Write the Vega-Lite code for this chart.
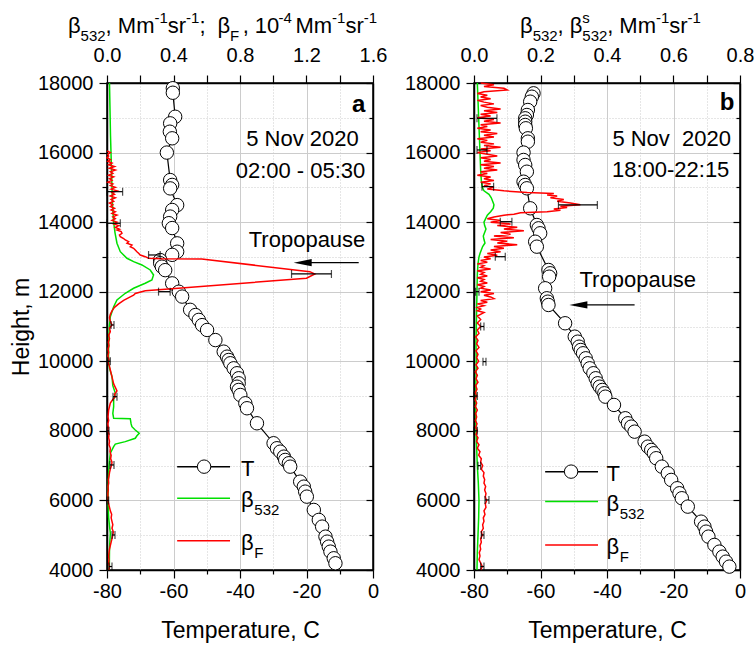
{
"$schema": "https://vega.github.io/schema/vega-lite/v6.json",
"background": "white",
"padding": {"left": 9, "top": 10, "right": 0, "bottom": 0},
"bounds": "flush",
"spacing": 101,
"config": {
 "font": "Liberation Sans",
 "view": {"stroke": "black", "strokeWidth": 1.5},
 "axis": {"labelFont": "Liberation Sans", "labelFontSize": 20, "labelColor": "black", "titleFont": "Liberation Sans", "titleFontSize": 23, "titleFontWeight": "normal", "titleColor": "black", "domainColor": "black", "domainWidth": 1.5, "tickColor": "black", "tickWidth": 1.2, "labelFlush": false, "labelOverlap": false, "labelBound": false, "gridColor": "#cccccc", "gridWidth": 1}
},
"datasets": {
 "Ta": [{"T":-60.2,"h":17850},{"T":-60.2,"h":17720},{"T":-59.5,"h":17030},{"T":-61.0,"h":16840},{"T":-61.1,"h":16600},{"T":-60.4,"h":16410},{"T":-62.0,"h":16000},{"T":-61.0,"h":15210},{"T":-60.4,"h":15070},{"T":-61.0,"h":14970},{"T":-58.9,"h":14490},{"T":-60.4,"h":14350},{"T":-61.0,"h":14160},{"T":-61.4,"h":13970},{"T":-60.4,"h":13830},{"T":-58.9,"h":13390},{"T":-58.9,"h":13150},{"T":-60.4,"h":13060},{"T":-64.0,"h":12910},{"T":-64.0,"h":12820},{"T":-63.5,"h":12720},{"T":-62.5,"h":12620},{"T":-60.4,"h":12240},{"T":-58.4,"h":12000},{"T":-57.4,"h":11860},{"T":-55.0,"h":11480},{"T":-53.4,"h":11330},{"T":-52.4,"h":11190},{"T":-51.4,"h":11040},{"T":-49.9,"h":10900},{"T":-47.4,"h":10610},{"T":-44.9,"h":10277},{"T":-43.9,"h":10133},{"T":-43.4,"h":10038},{"T":-42.9,"h":9943},{"T":-41.9,"h":9799},{"T":-40.9,"h":9656},{"T":-40.4,"h":9512},{"T":-40.4,"h":9368},{"T":-40.9,"h":9270},{"T":-40.4,"h":9176},{"T":-39.9,"h":9032},{"T":-38.4,"h":8793},{"T":-37.9,"h":8650},{"T":-34.9,"h":8218},{"T":-29.9,"h":7644},{"T":-28.9,"h":7500},{"T":-27.9,"h":7402},{"T":-26.8,"h":7259},{"T":-26.4,"h":7164},{"T":-25.3,"h":7069},{"T":-24.9,"h":6971},{"T":-21.9,"h":6540},{"T":-20.8,"h":6396},{"T":-20.4,"h":6253},{"T":-19.9,"h":6109},{"T":-17.8,"h":5727},{"T":-16.3,"h":5440},{"T":-15.3,"h":5247},{"T":-14.3,"h":4959},{"T":-13.8,"h":4815},{"T":-13.3,"h":4672},{"T":-12.8,"h":4528},{"T":-11.8,"h":4337},{"T":-11.3,"h":4194}],
 "Tb": [{"T":-62.1,"h":17704},{"T":-62.6,"h":17606},{"T":-63.1,"h":17463},{"T":-63.8,"h":17224},{"T":-64.1,"h":17080},{"T":-64.6,"h":16985},{"T":-64.6,"h":16888},{"T":-64.6,"h":16793},{"T":-64.4,"h":16698},{"T":-63.8,"h":16410},{"T":-63.8,"h":16313},{"T":-65.1,"h":16000},{"T":-65.1,"h":15787},{"T":-64.6,"h":15643},{"T":-64.1,"h":15450},{"T":-65.1,"h":15163},{"T":-64.6,"h":15068},{"T":-64.1,"h":14973},{"T":-63.1,"h":14398},{"T":-61.1,"h":13918},{"T":-60.6,"h":13822},{"T":-60.1,"h":13680},{"T":-61.6,"h":13438},{"T":-61.1,"h":13295},{"T":-57.6,"h":12625},{"T":-57.1,"h":12530},{"T":-57.4,"h":12432},{"T":-58.6,"h":12099},{"T":-58.1,"h":11811},{"T":-57.8,"h":11714},{"T":-57.6,"h":11619},{"T":-52.6,"h":11093},{"T":-49.7,"h":10708},{"T":-48.8,"h":10564},{"T":-48.4,"h":10420},{"T":-47.9,"h":10325},{"T":-47.2,"h":10230},{"T":-46.4,"h":10086},{"T":-45.8,"h":9943},{"T":-45.2,"h":9799},{"T":-44.1,"h":9656},{"T":-43.4,"h":9512},{"T":-42.8,"h":9368},{"T":-42.2,"h":9270},{"T":-41.4,"h":9176},{"T":-40.8,"h":9081},{"T":-40.5,"h":8983},{"T":-37.9,"h":8745},{"T":-34.5,"h":8362},{"T":-33.7,"h":8218},{"T":-32.7,"h":8121},{"T":-31.7,"h":7977},{"T":-28.7,"h":7690},{"T":-27.7,"h":7546},{"T":-26.7,"h":7451},{"T":-25.9,"h":7356},{"T":-25.2,"h":7213},{"T":-23.5,"h":6971},{"T":-21.7,"h":6781},{"T":-20.7,"h":6589},{"T":-18.9,"h":6350},{"T":-18.2,"h":6206},{"T":-17.5,"h":6063},{"T":-15.7,"h":5822},{"T":-11.7,"h":5390},{"T":-10.7,"h":5247},{"T":-10.2,"h":5103},{"T":-9.5,"h":4959},{"T":-7.7,"h":4720},{"T":-6.2,"h":4528},{"T":-5.2,"h":4384},{"T":-4.2,"h":4240},{"T":-3.2,"h":4097}],
 "Ga": [{"b":0.015,"h":18000},{"b":0.017,"h":17500},{"b":0.019,"h":17000},{"b":0.021,"h":16500},{"b":0.024,"h":16000},{"b":0.027,"h":15500},{"b":0.03,"h":15000},{"b":0.033,"h":14500},{"b":0.04,"h":14000},{"b":0.048,"h":13700},{"b":0.06,"h":13393},{"b":0.08,"h":13151},{"b":0.12,"h":12961},{"b":0.16,"h":12864},{"b":0.21,"h":12769},{"b":0.26,"h":12625},{"b":0.28,"h":12481},{"b":0.27,"h":12338},{"b":0.23,"h":12243},{"b":0.16,"h":12099},{"b":0.11,"h":11955},{"b":0.06,"h":11763},{"b":0.04,"h":11570},{"b":0.02,"h":11283},{"b":0.014,"h":10995},{"b":0.01,"h":10500},{"b":0.009,"h":10038},{"b":0.015,"h":9800},{"b":0.03,"h":9558},{"b":0.035,"h":9300},{"b":0.05,"h":9081},{"b":0.04,"h":8900},{"b":0.04,"h":8696},{"b":0.035,"h":8500},{"b":0.04,"h":8362},{"b":0.14,"h":8350},{"b":0.145,"h":8200},{"b":0.15,"h":8120},{"b":0.17,"h":8026},{"b":0.194,"h":7931},{"b":0.18,"h":7860},{"b":0.17,"h":7787},{"b":0.11,"h":7690},{"b":0.05,"h":7620},{"b":0.04,"h":7546},{"b":0.02,"h":7356},{"b":0.012,"h":7000},{"b":0.01,"h":6781},{"b":0.008,"h":6500},{"b":0.006,"h":6014},{"b":0.01,"h":5500},{"b":0.02,"h":5057},{"b":0.015,"h":4600},{"b":0.014,"h":4100},{"b":0.013,"h":4000}],
 "Gb": [{"b":0.01,"h":18000},{"b":0.012,"h":17500},{"b":0.014,"h":17000},{"b":0.016,"h":16500},{"b":0.018,"h":16000},{"b":0.02,"h":15500},{"b":0.022,"h":15200},{"b":0.025,"h":15000},{"b":0.03,"h":14900},{"b":0.045,"h":14800},{"b":0.052,"h":14700},{"b":0.056,"h":14600},{"b":0.06,"h":14500},{"b":0.058,"h":14400},{"b":0.05,"h":14300},{"b":0.04,"h":14200},{"b":0.035,"h":14100},{"b":0.03,"h":14000},{"b":0.032,"h":13900},{"b":0.036,"h":13800},{"b":0.032,"h":13700},{"b":0.028,"h":13600},{"b":0.03,"h":13500},{"b":0.033,"h":13400},{"b":0.026,"h":13300},{"b":0.022,"h":13200},{"b":0.018,"h":13100},{"b":0.015,"h":13000},{"b":0.012,"h":12800},{"b":0.01,"h":12500},{"b":0.009,"h":12000},{"b":0.008,"h":11500},{"b":0.007,"h":11000},{"b":0.006,"h":10500},{"b":0.007,"h":10000},{"b":0.006,"h":9500},{"b":0.005,"h":9000},{"b":0.005,"h":8500},{"b":0.006,"h":8000},{"b":0.008,"h":7500},{"b":0.01,"h":7000},{"b":0.013,"h":6500},{"b":0.015,"h":6000},{"b":0.014,"h":5500},{"b":0.012,"h":5000},{"b":0.01,"h":4500},{"b":0.009,"h":4000}],
 "Ra": [{"b":0.0,"h":16050},{"b":0.02,"h":16000},{"b":0.005,"h":15950},{"b":0.01,"h":15900},{"b":0.0,"h":15850},{"b":0.02,"h":15800},{"b":0.005,"h":15750},{"b":0.03,"h":15700},{"b":0.01,"h":15650},{"b":0.045,"h":15600},{"b":0.015,"h":15550},{"b":0.05,"h":15500},{"b":0.02,"h":15450},{"b":0.035,"h":15400},{"b":0.01,"h":15350},{"b":0.04,"h":15300},{"b":0.015,"h":15250},{"b":0.03,"h":15200},{"b":0.005,"h":15150},{"b":0.035,"h":15100},{"b":0.02,"h":15050},{"b":0.05,"h":15000},{"b":0.025,"h":14950},{"b":0.06,"h":14900},{"b":0.03,"h":14850},{"b":0.045,"h":14800},{"b":0.02,"h":14750},{"b":0.05,"h":14700},{"b":0.025,"h":14650},{"b":0.04,"h":14600},{"b":0.015,"h":14550},{"b":0.035,"h":14500},{"b":0.02,"h":14450},{"b":0.045,"h":14400},{"b":0.025,"h":14350},{"b":0.05,"h":14300},{"b":0.03,"h":14250},{"b":0.06,"h":14200},{"b":0.035,"h":14150},{"b":0.05,"h":14100},{"b":0.03,"h":14050},{"b":0.06,"h":14000},{"b":0.04,"h":13950},{"b":0.07,"h":13900},{"b":0.05,"h":13850},{"b":0.075,"h":13800},{"b":0.06,"h":13775},{"b":0.085,"h":13730},{"b":0.09,"h":13680},{"b":0.075,"h":13630},{"b":0.08,"h":13582},{"b":0.1,"h":13530},{"b":0.11,"h":13487},{"b":0.13,"h":13438},{"b":0.12,"h":13393},{"b":0.15,"h":13344},{"b":0.14,"h":13295},{"b":0.16,"h":13249},{"b":0.17,"h":13200},{"b":0.18,"h":13151},{"b":0.19,"h":13105},{"b":0.2,"h":13056},{"b":0.23,"h":13007},{"b":0.25,"h":12961},{"b":0.33,"h":12945},{"b":0.57,"h":12940},{"b":1.22,"h":12576},{"b":1.25,"h":12510},{"b":1.2,"h":12386},{"b":0.37,"h":12079},{"b":0.23,"h":12030},{"b":0.17,"h":11950},{"b":0.16,"h":11900},{"b":0.14,"h":11850},{"b":0.1,"h":11750},{"b":0.07,"h":11650},{"b":0.045,"h":11550},{"b":0.03,"h":11450},{"b":0.02,"h":11350},{"b":0.015,"h":11250},{"b":0.02,"h":11150},{"b":0.03,"h":11044},{"b":0.015,"h":10950},{"b":0.02,"h":10850},{"b":0.01,"h":10750},{"b":0.015,"h":10650},{"b":0.008,"h":10550},{"b":0.012,"h":10450},{"b":0.006,"h":10350},{"b":0.01,"h":10250},{"b":0.005,"h":10150},{"b":0.012,"h":10050},{"b":0.008,"h":9950},{"b":0.015,"h":9850},{"b":0.02,"h":9750},{"b":0.025,"h":9650},{"b":0.03,"h":9550},{"b":0.035,"h":9450},{"b":0.04,"h":9350},{"b":0.05,"h":9250},{"b":0.06,"h":9150},{"b":0.045,"h":9050},{"b":0.05,"h":8983},{"b":0.035,"h":8900},{"b":0.02,"h":8800},{"b":0.015,"h":8700},{"b":0.01,"h":8600},{"b":0.008,"h":8500},{"b":0.006,"h":8400},{"b":0.01,"h":8300},{"b":0.005,"h":8200},{"b":0.008,"h":8100},{"b":0.006,"h":8000},{"b":0.012,"h":7900},{"b":0.01,"h":7800},{"b":0.015,"h":7700},{"b":0.012,"h":7600},{"b":0.02,"h":7500},{"b":0.018,"h":7400},{"b":0.025,"h":7300},{"b":0.022,"h":7200},{"b":0.03,"h":7100},{"b":0.028,"h":7020},{"b":0.02,"h":6900},{"b":0.015,"h":6800},{"b":0.012,"h":6700},{"b":0.008,"h":6600},{"b":0.01,"h":6500},{"b":0.006,"h":6400},{"b":0.008,"h":6300},{"b":0.005,"h":6200},{"b":0.006,"h":6100},{"b":0.005,"h":6000},{"b":0.01,"h":5900},{"b":0.015,"h":5800},{"b":0.02,"h":5700},{"b":0.028,"h":5600},{"b":0.025,"h":5500},{"b":0.03,"h":5400},{"b":0.035,"h":5300},{"b":0.03,"h":5200},{"b":0.038,"h":5100},{"b":0.035,"h":5007},{"b":0.03,"h":4900},{"b":0.025,"h":4800},{"b":0.02,"h":4700},{"b":0.015,"h":4600},{"b":0.012,"h":4500},{"b":0.01,"h":4400},{"b":0.012,"h":4300},{"b":0.01,"h":4200},{"b":0.015,"h":4100},{"b":0.012,"h":4000}],
 "Rb": [{"b":0.02,"h":18000},{"b":0.06,"h":17950},{"b":0.03,"h":17900},{"b":0.09,"h":17850},{"b":0.1,"h":17800},{"b":0.03,"h":17750},{"b":0.01,"h":17700},{"b":0.04,"h":17650},{"b":0.02,"h":17600},{"b":0.05,"h":17550},{"b":0.01,"h":17500},{"b":0.03,"h":17450},{"b":0.06,"h":17400},{"b":0.02,"h":17350},{"b":0.04,"h":17300},{"b":0.08,"h":17250},{"b":0.03,"h":17200},{"b":0.07,"h":17150},{"b":0.02,"h":17100},{"b":0.05,"h":17050},{"b":0.01,"h":17000},{"b":0.06,"h":16950},{"b":0.03,"h":16900},{"b":0.08,"h":16850},{"b":0.02,"h":16800},{"b":0.04,"h":16750},{"b":0.01,"h":16700},{"b":0.05,"h":16650},{"b":0.02,"h":16600},{"b":0.07,"h":16550},{"b":0.03,"h":16500},{"b":0.06,"h":16450},{"b":0.01,"h":16400},{"b":0.04,"h":16350},{"b":0.02,"h":16300},{"b":0.06,"h":16250},{"b":0.03,"h":16200},{"b":0.08,"h":16150},{"b":0.02,"h":16100},{"b":0.05,"h":16050},{"b":0.01,"h":16000},{"b":0.04,"h":15950},{"b":0.07,"h":15900},{"b":0.02,"h":15850},{"b":0.05,"h":15800},{"b":0.03,"h":15750},{"b":0.08,"h":15700},{"b":0.02,"h":15650},{"b":0.06,"h":15600},{"b":0.03,"h":15550},{"b":0.07,"h":15500},{"b":0.02,"h":15450},{"b":0.04,"h":15400},{"b":0.01,"h":15350},{"b":0.05,"h":15300},{"b":0.03,"h":15250},{"b":0.06,"h":15200},{"b":0.02,"h":15150},{"b":0.05,"h":15100},{"b":0.03,"h":15050},{"b":0.06,"h":15000},{"b":0.04,"h":14950},{"b":0.09,"h":14900},{"b":0.16,"h":14850},{"b":0.24,"h":14820},{"b":0.22,"h":14780},{"b":0.25,"h":14750},{"b":0.23,"h":14700},{"b":0.27,"h":14650},{"b":0.25,"h":14600},{"b":0.29,"h":14550},{"b":0.32,"h":14500},{"b":0.26,"h":14460},{"b":0.28,"h":14420},{"b":0.24,"h":14380},{"b":0.26,"h":14340},{"b":0.22,"h":14300},{"b":0.14,"h":14270},{"b":0.12,"h":14230},{"b":0.09,"h":14200},{"b":0.06,"h":14150},{"b":0.04,"h":14100},{"b":0.08,"h":14050},{"b":0.05,"h":14000},{"b":0.11,"h":13950},{"b":0.07,"h":13900},{"b":0.13,"h":13850},{"b":0.09,"h":13800},{"b":0.15,"h":13750},{"b":0.08,"h":13700},{"b":0.11,"h":13650},{"b":0.06,"h":13600},{"b":0.12,"h":13550},{"b":0.05,"h":13500},{"b":0.1,"h":13450},{"b":0.07,"h":13400},{"b":0.13,"h":13350},{"b":0.06,"h":13300},{"b":0.09,"h":13250},{"b":0.05,"h":13200},{"b":0.08,"h":13150},{"b":0.04,"h":13100},{"b":0.07,"h":13050},{"b":0.03,"h":13000},{"b":0.05,"h":12950},{"b":0.02,"h":12900},{"b":0.04,"h":12850},{"b":0.01,"h":12800},{"b":0.03,"h":12750},{"b":0.02,"h":12700},{"b":0.05,"h":12650},{"b":0.01,"h":12600},{"b":0.03,"h":12550},{"b":0.02,"h":12500},{"b":0.04,"h":12450},{"b":0.01,"h":12400},{"b":0.03,"h":12350},{"b":0.02,"h":12300},{"b":0.04,"h":12250},{"b":0.01,"h":12200},{"b":0.03,"h":12150},{"b":0.02,"h":12100},{"b":0.05,"h":12050},{"b":0.02,"h":12000},{"b":0.06,"h":11950},{"b":0.03,"h":11900},{"b":0.05,"h":11850},{"b":0.06,"h":11800},{"b":0.02,"h":11750},{"b":0.04,"h":11700},{"b":0.01,"h":11650},{"b":0.03,"h":11600},{"b":0.01,"h":11550},{"b":0.02,"h":11500},{"b":0.01,"h":11450},{"b":0.03,"h":11400},{"b":0.01,"h":11300},{"b":0.02,"h":11200},{"b":0.01,"h":11100},{"b":0.02,"h":11000},{"b":0.01,"h":10900},{"b":0.015,"h":10800},{"b":0.005,"h":10700},{"b":0.012,"h":10600},{"b":0.008,"h":10500},{"b":0.015,"h":10400},{"b":0.006,"h":10300},{"b":0.012,"h":10200},{"b":0.008,"h":10100},{"b":0.014,"h":10000},{"b":0.006,"h":9900},{"b":0.012,"h":9800},{"b":0.004,"h":9700},{"b":0.01,"h":9600},{"b":0.006,"h":9500},{"b":0.012,"h":9400},{"b":0.005,"h":9300},{"b":0.009,"h":9200},{"b":0.004,"h":9100},{"b":0.008,"h":9000},{"b":0.003,"h":8900},{"b":0.008,"h":8800},{"b":0.004,"h":8700},{"b":0.01,"h":8600},{"b":0.005,"h":8500},{"b":0.008,"h":8400},{"b":0.004,"h":8300},{"b":0.009,"h":8200},{"b":0.005,"h":8100},{"b":0.01,"h":8000},{"b":0.006,"h":7900},{"b":0.012,"h":7800},{"b":0.008,"h":7700},{"b":0.015,"h":7600},{"b":0.01,"h":7500},{"b":0.018,"h":7400},{"b":0.014,"h":7300},{"b":0.022,"h":7200},{"b":0.02,"h":7100},{"b":0.026,"h":7000},{"b":0.022,"h":6900},{"b":0.03,"h":6800},{"b":0.028,"h":6700},{"b":0.032,"h":6600},{"b":0.03,"h":6500},{"b":0.035,"h":6400},{"b":0.032,"h":6300},{"b":0.036,"h":6200},{"b":0.034,"h":6100},{"b":0.038,"h":6000},{"b":0.034,"h":5900},{"b":0.036,"h":5800},{"b":0.03,"h":5700},{"b":0.033,"h":5600},{"b":0.028,"h":5500},{"b":0.03,"h":5400},{"b":0.026,"h":5300},{"b":0.028,"h":5200},{"b":0.022,"h":5100},{"b":0.025,"h":5000},{"b":0.02,"h":4900},{"b":0.022,"h":4800},{"b":0.018,"h":4700},{"b":0.02,"h":4600},{"b":0.016,"h":4500},{"b":0.018,"h":4400},{"b":0.015,"h":4300},{"b":0.02,"h":4200},{"b":0.025,"h":4100},{"b":0.02,"h":4000}],
 "Ea": [{"h":14876,"lo":0.0,"hi":0.094},{"h":13967,"lo":0.0,"hi":0.08},{"h":13056,"lo":0.25,"hi":0.32},{"h":12510,"lo":1.11,"hi":1.35},{"h":12002,"lo":0.31,"hi":0.38},{"h":11044,"lo":0.024,"hi":0.042},{"h":10000,"lo":0.005,"hi":0.02},{"h":8983,"lo":0.036,"hi":0.06},{"h":8000,"lo":0.0,"hi":0.012},{"h":7020,"lo":0.018,"hi":0.042},{"h":6000,"lo":0.0,"hi":0.01},{"h":5007,"lo":0.03,"hi":0.048},{"h":4100,"lo":0.012,"hi":0.03}],
 "Eb": [{"h":16985,"lo":0.009,"hi":0.069},{"h":16075,"lo":0.009,"hi":0.039},{"h":15020,"lo":0.024,"hi":0.059},{"h":14494,"lo":0.254,"hi":0.371},{"h":14014,"lo":0.079,"hi":0.114},{"h":13007,"lo":0.064,"hi":0.094},{"h":12002,"lo":0.005,"hi":0.015},{"h":11000,"lo":0.02,"hi":0.03},{"h":9990,"lo":0.027,"hi":0.036},{"h":9000,"lo":0.0,"hi":0.01},{"h":8000,"lo":0.0,"hi":0.01},{"h":7000,"lo":0.012,"hi":0.02},{"h":6014,"lo":0.033,"hi":0.045},{"h":5007,"lo":0.022,"hi":0.03},{"h":4100,"lo":0.02,"hi":0.03}],
 "legA": [{"s":"T","T":-58.9,"T2":-43.0,"h":6971},{"s":"β532","T":-58.9,"T2":-43.0,"h":6063},{"s":"βF","T":-58.9,"T2":-43.0,"h":4844}],
 "legB": [{"s":"T","T":-58.6,"T2":-42.7,"h":6828},{"s":"β532","T":-58.6,"T2":-42.7,"h":5968},{"s":"βF","T":-58.6,"T2":-42.7,"h":4720}],
 "legPtA": [{"T":-50.8,"h":6971}],
 "legPtB": [{"T":-50.8,"h":6828}],
 "arrA": [{"T":-21.15,"T2":-4.3,"h":12835}],
 "arrB": [{"T":-48.6,"T2":-31.7,"h":11619}],
 "annA": [{"t":"5 Nov 2020","T":-4.3,"h":16189},{"t":"02:00 - 05:30","T":-2.3,"h":15261},{"t":"Tropopause","T":-2.3,"h":13295}],
 "annB": [{"t":"5 Nov\u00a0 2020","T":-2.7,"h":16189},{"t":"18:00-22:15","T":-3.2,"h":15307},{"t":"Tropopause","T":-13.2,"h":12145}],
 "labA": [{"t":"a","T":-2.3,"h":17175}],
 "labB": [{"t":"b","T":-1.7,"h":17224}],
 "txtA": [{"t":"β","T":-91.73,"h":19429,"k":"main"},{"t":"532","T":-87.94,"h":19429,"k":"sub"},{"t":", Mm","T":-80.42,"h":19429,"k":"main"},{"t":"-1","T":-65.71,"h":19429,"k":"sup"},{"t":"sr","T":-61.71,"h":19429,"k":"main"},{"t":"-1","T":-56.21,"h":19429,"k":"sup"},{"t":";","T":-52.21,"h":19429,"k":"main"},{"t":"β","T":-46.77,"h":19429,"k":"main"},{"t":"F","T":-42.98,"h":19429,"k":"sub"},{"t":", 10","T":-39.21,"h":19429,"k":"main"},{"t":"-4","T":-28.4,"h":19429,"k":"sup"},{"t":"Mm","T":-23.34,"h":19429,"k":"main"},{"t":"-1","T":-12.3,"h":19429,"k":"sup"},{"t":"sr","T":-8.3,"h":19429,"k":"main"},{"t":"-1","T":-2.8,"h":19429,"k":"sup"},{"t":"T","T":-39.7,"h":6712,"k":"main"},{"t":"β","T":-39.7,"h":5804,"k":"main"},{"t":"532","T":-35.7,"h":5804,"k":"sub"},{"t":"β","T":-39.7,"h":4585,"k":"main"},{"t":"F","T":-35.7,"h":4585,"k":"sub"}],
 "txtB": [{"t":"β","T":-66.13,"h":19429,"k":"main"},{"t":"532","T":-62.35,"h":19429,"k":"sub"},{"t":",","T":-54.86,"h":19429,"k":"main"},{"t":"β","T":-51.24,"h":19429,"k":"main"},{"t":"s","T":-47.43,"h":19429,"k":"sup"},{"t":"532","T":-47.43,"h":19429,"k":"sub"},{"t":",","T":-39.94,"h":19429,"k":"main"},{"t":"Mm","T":-36.28,"h":19429,"k":"main"},{"t":"-1","T":-25.29,"h":19429,"k":"sup"},{"t":"sr","T":-21.3,"h":19429,"k":"main"},{"t":"-1","T":-15.82,"h":19429,"k":"sup"},{"t":"T","T":-40.15,"h":6568,"k":"main"},{"t":"β","T":-40.15,"h":5707,"k":"main"},{"t":"532","T":-36.2,"h":5707,"k":"sub"},{"t":"β","T":-40.15,"h":4462,"k":"main"},{"t":"F","T":-36.2,"h":4462,"k":"sub"}]
},
"hconcat": [
 {
  "width": 266, "height": 487,
  "resolve": {"scale": {"x": "independent"}},
  "encoding": {"y": {"field": "h", "type": "quantitative", "scale": {"domain": [4000, 18000], "nice": false, "zero": false}, "axis": null}},
  "layer": [
   {"data": {"name": "Ta"}, "mark": {"type": "line", "color": "black", "strokeWidth": 1.2},
    "encoding": {
     "x": {"field": "T", "type": "quantitative", "scale": {"domain": [-80, 0], "nice": false, "zero": false},
      "axis": {"orient": "bottom", "title": "Temperature, C", "values": [-80,-70,-60,-50,-40,-30,-20,-10,0], "labelExpr": "datum.value % 20 === 0 ? '' + datum.value : ''", "tickSize": {"condition": {"test": "datum.value % 20 === 0", "value": 8}, "value": 4}, "grid": true, "gridDash": {"condition": {"test": "datum.value % 20 === 0", "value": []}, "value": [1, 2]}, "labelPadding": 3, "titlePadding": 18}},
     "y": {"field": "h", "type": "quantitative", "scale": {"domain": [4000, 18000], "nice": false, "zero": false},
      "axis": {"orient": "left", "title": "Height, m", "values": [4000,5000,6000,7000,8000,9000,10000,11000,12000,13000,14000,15000,16000,17000,18000], "labelExpr": "datum.value % 2000 === 0 ? '' + datum.value : ''", "tickSize": {"condition": {"test": "datum.value % 2000 === 0", "value": 8}, "value": 5}, "grid": true, "gridDash": {"condition": {"test": "datum.value % 2000 === 0", "value": []}, "value": [1, 2]}, "labelPadding": 6, "titlePadding": 4}},
     "order": {"field": "h", "type": "quantitative"}}},
   {"data": {"name": "Ta"}, "mark": {"type": "point", "shape": "circle", "filled": true, "fill": "white", "stroke": "black", "strokeWidth": 1, "size": 180, "opacity": 1},
    "encoding": {
     "x": {"field": "T", "type": "quantitative", "scale": {"domain": [-80, 0], "nice": false, "zero": false}, "axis": null},
     "y": {"field": "h", "type": "quantitative", "scale": {"domain": [4000, 18000], "nice": false, "zero": false},
      "axis": {"orient": "right", "title": null, "labels": false, "values": [4000,5000,6000,7000,8000,9000,10000,11000,12000,13000,14000,15000,16000,17000,18000], "tickSize": {"condition": {"test": "datum.value % 2000 === 0", "value": -7}, "value": -4}, "grid": false}}}},
   {"data": {"name": "legA"}, "mark": {"type": "rule", "strokeWidth": 1.5},
    "encoding": {"x": {"field": "T", "type": "quantitative", "scale": {"domain": [-80, 0], "nice": false, "zero": false}, "axis": null}, "x2": {"field": "T2"}, "color": {"field": "s", "type": "nominal", "scale": {"domain": ["T", "β532", "βF"], "range": ["black", "#00e000", "#ff0000"]}, "legend": null}}},
   {"data": {"name": "legPtA"}, "mark": {"type": "point", "shape": "circle", "filled": true, "fill": "white", "stroke": "black", "strokeWidth": 1, "size": 180, "opacity": 1},
    "encoding": {"x": {"field": "T", "type": "quantitative", "scale": {"domain": [-80, 0], "nice": false, "zero": false}, "axis": null}}},
   {"data": {"name": "arrA"}, "mark": {"type": "rule", "color": "black", "strokeWidth": 1.2},
    "encoding": {"x": {"field": "T", "type": "quantitative", "scale": {"domain": [-80, 0], "nice": false, "zero": false}, "axis": null}, "x2": {"field": "T2"}}},
   {"data": {"name": "arrA"}, "mark": {"type": "point", "shape": "M-1,0L1,-0.4L1,0.4Z", "filled": true, "color": "black", "size": 324, "opacity": 1},
    "encoding": {"x": {"field": "T", "type": "quantitative", "scale": {"domain": [-80, 0], "nice": false, "zero": false}, "axis": null}}},
   {"data": {"name": "annA"}, "mark": {"type": "text", "align": "right", "baseline": "alphabetic", "fontSize": 22, "font": "Liberation Sans", "color": "black"},
    "encoding": {"x": {"field": "T", "type": "quantitative", "scale": {"domain": [-80, 0], "nice": false, "zero": false}, "axis": null}, "text": {"field": "t"}}},
   {"data": {"name": "labA"}, "mark": {"type": "text", "align": "right", "baseline": "alphabetic", "fontSize": 24, "fontWeight": "bold", "font": "Liberation Sans", "color": "black"},
    "encoding": {"x": {"field": "T", "type": "quantitative", "scale": {"domain": [-80, 0], "nice": false, "zero": false}, "axis": null}, "text": {"field": "t"}}},
   {"data": {"name": "txtA"}, "transform": [{"filter": "datum.k === 'main'"}], "mark": {"type": "text", "align": "left", "baseline": "alphabetic", "fontSize": 22, "font": "Liberation Sans", "color": "black"},
    "encoding": {"x": {"field": "T", "type": "quantitative", "scale": {"domain": [-80, 0], "nice": false, "zero": false}, "axis": null}, "text": {"field": "t"}}},
   {"data": {"name": "txtA"}, "transform": [{"filter": "datum.k === 'sub'"}], "mark": {"type": "text", "align": "left", "baseline": "alphabetic", "fontSize": 15, "dy": 8, "font": "Liberation Sans", "color": "black"},
    "encoding": {"x": {"field": "T", "type": "quantitative", "scale": {"domain": [-80, 0], "nice": false, "zero": false}, "axis": null}, "text": {"field": "t"}}},
   {"data": {"name": "txtA"}, "transform": [{"filter": "datum.k === 'sup'"}], "mark": {"type": "text", "align": "left", "baseline": "alphabetic", "fontSize": 15, "dy": -10, "font": "Liberation Sans", "color": "black"},
    "encoding": {"x": {"field": "T", "type": "quantitative", "scale": {"domain": [-80, 0], "nice": false, "zero": false}, "axis": null}, "text": {"field": "t"}}},
   {"data": {"name": "Ga"}, "mark": {"type": "line", "color": "#00e000", "strokeWidth": 1.5},
    "encoding": {
     "x": {"field": "b", "type": "quantitative", "scale": {"domain": [0, 1.6], "nice": false, "zero": false},
      "axis": {"orient": "top", "title": null, "values": [0,0.2,0.4,0.6,0.8,1.0,1.2,1.4,1.6], "labelExpr": "round(datum.value*10) % 4 === 0 ? format(datum.value, '.1f') : ''", "tickSize": 8, "grid": false, "labelPadding": 10}},
     "order": {"field": "h", "type": "quantitative"}}},
   {"data": {"name": "Ra"}, "mark": {"type": "line", "color": "#ff0000", "strokeWidth": 1.5},
    "encoding": {"x": {"field": "b", "type": "quantitative", "scale": {"domain": [0, 1.6], "nice": false, "zero": false}, "axis": null}, "order": {"field": "h", "type": "quantitative"}}},
   {"data": {"name": "Ea"}, "mark": {"type": "rule", "color": "black", "strokeWidth": 1.2},
    "encoding": {"x": {"field": "lo", "type": "quantitative", "scale": {"domain": [0, 1.6], "nice": false, "zero": false}, "axis": null}, "x2": {"field": "hi"}}},
   {"data": {"name": "Ea"}, "mark": {"type": "tick", "orient": "vertical", "size": 8, "thickness": 1.2, "color": "black"},
    "encoding": {"x": {"field": "lo", "type": "quantitative", "scale": {"domain": [0, 1.6], "nice": false, "zero": false}, "axis": null}}},
   {"data": {"name": "Ea"}, "mark": {"type": "tick", "orient": "vertical", "size": 8, "thickness": 1.2, "color": "black"},
    "encoding": {"x": {"field": "hi", "type": "quantitative", "scale": {"domain": [0, 1.6], "nice": false, "zero": false}, "axis": null}}}
  ]
 },
 {
  "width": 266, "height": 487,
  "resolve": {"scale": {"x": "independent"}},
  "encoding": {"y": {"field": "h", "type": "quantitative", "scale": {"domain": [4000, 18000], "nice": false, "zero": false}, "axis": null}},
  "layer": [
   {"data": {"name": "Tb"}, "mark": {"type": "line", "color": "black", "strokeWidth": 1.2},
    "encoding": {
     "x": {"field": "T", "type": "quantitative", "scale": {"domain": [-80, 0], "nice": false, "zero": false},
      "axis": {"orient": "bottom", "title": "Temperature, C", "values": [-80,-70,-60,-50,-40,-30,-20,-10,0], "labelExpr": "datum.value % 20 === 0 ? '' + datum.value : ''", "tickSize": {"condition": {"test": "datum.value % 20 === 0", "value": 8}, "value": 4}, "grid": true, "gridDash": {"condition": {"test": "datum.value % 20 === 0", "value": []}, "value": [1, 2]}, "labelPadding": 3, "titlePadding": 18}},
     "y": {"field": "h", "type": "quantitative", "scale": {"domain": [4000, 18000], "nice": false, "zero": false},
      "axis": {"orient": "left", "title": null, "values": [4000,5000,6000,7000,8000,9000,10000,11000,12000,13000,14000,15000,16000,17000,18000], "labelExpr": "datum.value % 2000 === 0 ? '' + datum.value : ''", "tickSize": {"condition": {"test": "datum.value % 2000 === 0", "value": 8}, "value": 5}, "grid": true, "gridDash": {"condition": {"test": "datum.value % 2000 === 0", "value": []}, "value": [1, 2]}, "labelPadding": 6}},
     "order": {"field": "h", "type": "quantitative"}}},
   {"data": {"name": "Tb"}, "mark": {"type": "point", "shape": "circle", "filled": true, "fill": "white", "stroke": "black", "strokeWidth": 1, "size": 180, "opacity": 1},
    "encoding": {
     "x": {"field": "T", "type": "quantitative", "scale": {"domain": [-80, 0], "nice": false, "zero": false}, "axis": null},
     "y": {"field": "h", "type": "quantitative", "scale": {"domain": [4000, 18000], "nice": false, "zero": false},
      "axis": {"orient": "right", "title": null, "labels": false, "values": [4000,5000,6000,7000,8000,9000,10000,11000,12000,13000,14000,15000,16000,17000,18000], "tickSize": {"condition": {"test": "datum.value % 2000 === 0", "value": -7}, "value": -4}, "grid": false}}}},
   {"data": {"name": "legB"}, "mark": {"type": "rule", "strokeWidth": 1.5},
    "encoding": {"x": {"field": "T", "type": "quantitative", "scale": {"domain": [-80, 0], "nice": false, "zero": false}, "axis": null}, "x2": {"field": "T2"}, "color": {"field": "s", "type": "nominal", "scale": {"domain": ["T", "β532", "βF"], "range": ["black", "#00e000", "#ff0000"]}, "legend": null}}},
   {"data": {"name": "legPtB"}, "mark": {"type": "point", "shape": "circle", "filled": true, "fill": "white", "stroke": "black", "strokeWidth": 1, "size": 180, "opacity": 1},
    "encoding": {"x": {"field": "T", "type": "quantitative", "scale": {"domain": [-80, 0], "nice": false, "zero": false}, "axis": null}}},
   {"data": {"name": "arrB"}, "mark": {"type": "rule", "color": "black", "strokeWidth": 1.2},
    "encoding": {"x": {"field": "T", "type": "quantitative", "scale": {"domain": [-80, 0], "nice": false, "zero": false}, "axis": null}, "x2": {"field": "T2"}}},
   {"data": {"name": "arrB"}, "mark": {"type": "point", "shape": "M-1,0L1,-0.4L1,0.4Z", "filled": true, "color": "black", "size": 324, "opacity": 1},
    "encoding": {"x": {"field": "T", "type": "quantitative", "scale": {"domain": [-80, 0], "nice": false, "zero": false}, "axis": null}}},
   {"data": {"name": "annB"}, "mark": {"type": "text", "align": "right", "baseline": "alphabetic", "fontSize": 22, "font": "Liberation Sans", "color": "black"},
    "encoding": {"x": {"field": "T", "type": "quantitative", "scale": {"domain": [-80, 0], "nice": false, "zero": false}, "axis": null}, "text": {"field": "t"}}},
   {"data": {"name": "labB"}, "mark": {"type": "text", "align": "right", "baseline": "alphabetic", "fontSize": 24, "fontWeight": "bold", "font": "Liberation Sans", "color": "black"},
    "encoding": {"x": {"field": "T", "type": "quantitative", "scale": {"domain": [-80, 0], "nice": false, "zero": false}, "axis": null}, "text": {"field": "t"}}},
   {"data": {"name": "txtB"}, "transform": [{"filter": "datum.k === 'main'"}], "mark": {"type": "text", "align": "left", "baseline": "alphabetic", "fontSize": 22, "font": "Liberation Sans", "color": "black"},
    "encoding": {"x": {"field": "T", "type": "quantitative", "scale": {"domain": [-80, 0], "nice": false, "zero": false}, "axis": null}, "text": {"field": "t"}}},
   {"data": {"name": "txtB"}, "transform": [{"filter": "datum.k === 'sub'"}], "mark": {"type": "text", "align": "left", "baseline": "alphabetic", "fontSize": 15, "dy": 8, "font": "Liberation Sans", "color": "black"},
    "encoding": {"x": {"field": "T", "type": "quantitative", "scale": {"domain": [-80, 0], "nice": false, "zero": false}, "axis": null}, "text": {"field": "t"}}},
   {"data": {"name": "txtB"}, "transform": [{"filter": "datum.k === 'sup'"}], "mark": {"type": "text", "align": "left", "baseline": "alphabetic", "fontSize": 15, "dy": -10, "font": "Liberation Sans", "color": "black"},
    "encoding": {"x": {"field": "T", "type": "quantitative", "scale": {"domain": [-80, 0], "nice": false, "zero": false}, "axis": null}, "text": {"field": "t"}}},
   {"data": {"name": "Gb"}, "mark": {"type": "line", "color": "#00e000", "strokeWidth": 1.5},
    "encoding": {
     "x": {"field": "b", "type": "quantitative", "scale": {"domain": [0, 0.8], "nice": false, "zero": false},
      "axis": {"orient": "top", "title": null, "values": [0,0.1,0.2,0.3,0.4,0.5,0.6,0.7,0.8], "labelExpr": "round(datum.value*10) % 2 === 0 ? format(datum.value, '.1f') : ''", "tickSize": 8, "grid": false, "labelPadding": 10}},
     "order": {"field": "h", "type": "quantitative"}}},
   {"data": {"name": "Rb"}, "mark": {"type": "line", "color": "#ff0000", "strokeWidth": 1.5},
    "encoding": {"x": {"field": "b", "type": "quantitative", "scale": {"domain": [0, 0.8], "nice": false, "zero": false}, "axis": null}, "order": {"field": "h", "type": "quantitative"}}},
   {"data": {"name": "Eb"}, "mark": {"type": "rule", "color": "black", "strokeWidth": 1.2},
    "encoding": {"x": {"field": "lo", "type": "quantitative", "scale": {"domain": [0, 0.8], "nice": false, "zero": false}, "axis": null}, "x2": {"field": "hi"}}},
   {"data": {"name": "Eb"}, "mark": {"type": "tick", "orient": "vertical", "size": 8, "thickness": 1.2, "color": "black"},
    "encoding": {"x": {"field": "lo", "type": "quantitative", "scale": {"domain": [0, 0.8], "nice": false, "zero": false}, "axis": null}}},
   {"data": {"name": "Eb"}, "mark": {"type": "tick", "orient": "vertical", "size": 8, "thickness": 1.2, "color": "black"},
    "encoding": {"x": {"field": "hi", "type": "quantitative", "scale": {"domain": [0, 0.8], "nice": false, "zero": false}, "axis": null}}}
  ]
 }
]
}
